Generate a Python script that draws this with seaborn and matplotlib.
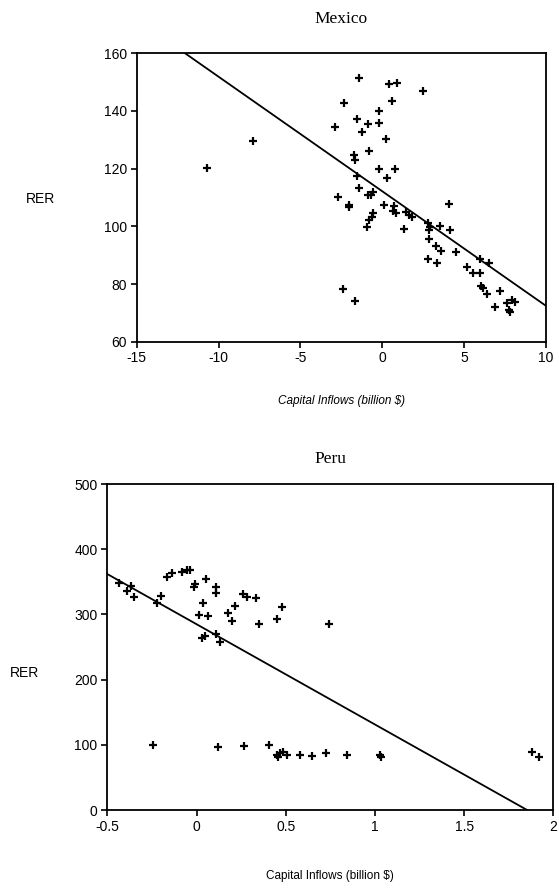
import numpy as np
import pandas as pd
import matplotlib
matplotlib.use("Agg")
import matplotlib.pyplot as plt
import seaborn as sns

sns.set_theme(style="white")
plt.rcParams['font.family'] = ['Liberation Sans', 'DejaVu Sans']

# ---- Mexico data ----
mex_x = [-10.72, -7.87, -1.39, -2.31, -1.52, -0.88, -2.90, -1.22, -0.80, -1.72,
         -1.66, -1.52, -1.39, -2.68, -0.84, 0.44, 0.93, 2.52, 0.60, -0.21,
         -0.17, 0.24, -0.17, 0.81, 0.33, -0.58, -2.00, -2.00, 0.10, 0.73,
         0.69, 0.85, 1.45, 1.65, 1.80, -0.54, -0.64, -0.78, -0.94, 1.36,
         -2.41, -1.67, 4.09, 2.83, 2.93, 2.89, 3.54, 4.15, 2.89, 3.29,
         3.58, 4.52, 2.83, 3.34, 5.98, 6.55, 5.21, 5.57, 5.98, 6.03,
         6.19, 6.43, 7.21, 6.90, 7.62, 7.92, 8.12, 7.78, 7.82, -0.70]
mex_y = [120.4, 129.6, 151.3, 142.7, 137.3, 135.5, 134.4, 132.7, 126.0, 124.7,
         123.0, 117.4, 113.4, 110.2, 110.8, 149.2, 149.6, 147.0, 143.3, 140.0,
         135.7, 130.3, 119.8, 119.8, 116.7, 112.0, 107.4, 106.6, 107.4, 107.0,
         105.4, 104.7, 105.1, 103.9, 103.1, 104.5, 103.3, 102.2, 99.9, 99.0,
         78.1, 74.1, 107.7, 101.0, 99.9, 98.7, 100.1, 98.7, 95.6, 93.2,
         91.5, 91.2, 88.6, 87.2, 88.6, 87.2, 86.0, 83.7, 83.7, 79.3,
         78.5, 76.4, 77.7, 72.1, 73.5, 74.5, 73.9, 71.0, 70.4, 111.0]
mex_fit = [112.2, -3.97]   # intercept, slope
mex_xticks = [-15, -10, -5, 0, 5, 10]
mex_yticks = [60, 80, 100, 120, 140, 160]

# ---- Peru data ----
peru_x = [-0.435, -0.365, -0.39, -0.35, -0.22, -0.20, -0.165, -0.14, -0.084, -0.038,
          -0.056, -0.01, -0.012, 0.056, 0.037, 0.015, 0.065, 0.112, 0.108, 0.05,
          0.11, 0.262, 0.284, 0.333, 0.215, 0.174, 0.477, 0.45, 0.74, 0.35,
          0.13, 0.03, 0.20,
          -0.244, 0.121, 0.266, 0.404, 0.453, 0.468, 0.487, 0.506, 0.458,
          0.58, 0.646, 0.726, 0.843, 1.026, 1.034, 1.882, 1.919]
peru_y = [348.6, 343.6, 336.0, 326.0, 318.0, 328.0, 358.0, 364.0, 365.5, 368.0,
          368.0, 346.6, 342.5, 354.0, 318.0, 299.0, 297.5, 342.5, 332.4, 267.0,
          270.0, 331.0, 326.0, 324.7, 313.4, 301.7, 311.0, 292.5, 285.0, 285.0,
          258.0, 264.0, 290.0,
          99.7, 96.0, 98.0, 99.7, 84.4, 87.0, 89.4, 84.4, 81.8,
          84.4, 82.8, 88.0, 85.0, 84.4, 81.8, 89.4, 81.8]
peru_fit = [285.0, -153.8]
peru_xticks = [-0.5, 0, 0.5, 1, 1.5, 2]
peru_xticklabels = ["-0.5", "0", "0.5", "1", "1.5", "2"]
peru_yticks = [0, 100, 200, 300, 400, 500]

W, H = 559, 890
fig = plt.figure(figsize=(W / 100, H / 100), dpi=100)

ax1 = fig.add_axes([136.7 / W, 1 - 341.7 / H, 409 / W, 288.4 / H])
ax2 = fig.add_axes([107.3 / W, 1 - 810 / H, 446 / W, 326 / H])

def draw(ax, xs, ys, fit, xlim, ylim, xticks, yticks, xticklabels, title,
         italic_label, ylab_pos, title_pad, xlab_pad):
    df = pd.DataFrame({"x": xs, "y": ys})
    sns.scatterplot(data=df, x="x", y="y", marker="+", color="black", s=40,
                    linewidth=1.6, ax=ax, zorder=3)
    lx = np.array(xlim, dtype=float)
    line = pd.DataFrame({"x": lx, "y": fit[0] + fit[1] * lx})
    sns.lineplot(data=line, x="x", y="y", color="black", linewidth=1.3, ax=ax)
    ax.set_xlim(*xlim)
    ax.set_ylim(*ylim)
    ax.set_xticks(xticks)
    ax.set_xticklabels(xticklabels if xticklabels else [str(t) for t in xticks])
    ax.set_yticks(yticks)
    ax.tick_params(axis="both", direction="out", length=4, width=1.2,
                   labelsize=10, color="black", labelcolor="black",
                   bottom=True, left=True, pad=3)
    for sp in ax.spines.values():
        sp.set_color("black")
        sp.set_linewidth(1.3)
        sp.set_visible(True)
    ax.set_title(title, family="Liberation Serif", fontsize=12.5, pad=title_pad, color="black")
    ax.set_xlabel("Capital Inflows (billion $)", fontsize=8.5,
                  style="italic" if italic_label else "normal", labelpad=xlab_pad, color="black")
    ax.set_ylabel("RER", rotation=0, fontsize=10, color="black", labelpad=0)
    ax.yaxis.set_label_coords(*ylab_pos)
    ax.grid(False)

draw(ax1, mex_x, mex_y, mex_fit, (-15, 10), (60, 160), mex_xticks, mex_yticks, None,
     "Mexico", True, (-0.235, 0.47), 22, 21)
draw(ax2, peru_x, peru_y, peru_fit, (-0.5, 2), (0, 500), peru_xticks, peru_yticks,
     peru_xticklabels, "Peru", False, (-0.185, 0.40), 15, 26)

fig.savefig("out.png", dpi=100, facecolor="white")
